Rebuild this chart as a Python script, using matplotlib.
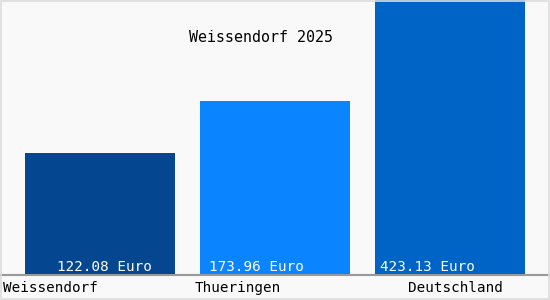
import matplotlib.pyplot as plt
from matplotlib.patches import Rectangle

# bar chart: average value per region, Weissendorf 2025
title = 'Weissendorf 2025'
regions = ['Weissendorf', 'Thueringen', 'Deutschland']
values = [122.08, 173.96, 423.13]
value_labels = ['122.08 Euro', '173.96 Euro', '423.13 Euro']

bar_colors = ['#04468f', '#0a84ff', '#0063c6']
mono = 'DejaVu Sans Mono'

fig = plt.figure(figsize=(5.5, 3), dpi=100, facecolor='#f9f9f9')
ax = fig.add_axes([0, 25 / 300, 1, 275 / 300])
ax.set_facecolor('#f9f9f9')

x = range(len(regions))
ax.bar(x, values, width=150 / 175, color=bar_colors, zorder=2)

ax.set_xlim(-100 / 175, 450 / 175)
ax.set_ylim(0, 275)
for s in ['top', 'left', 'right']:
    ax.spines[s].set_visible(False)
ax.spines['bottom'].set_color('#999999')
ax.spines['bottom'].set_linewidth(1.5)
ax.set_xticks([])
ax.set_yticks([])

# thin light frame round the whole picture
fig.patches.append(Rectangle((0.001, 0.002), 0.997, 0.995, transform=fig.transFigure,
                             fill=False, edgecolor='#dddddd', linewidth=1.2, zorder=10))

# value text sits at the bottom of each bar (pixel offsets like the original)
val_x = [57, 209, 380]
for px, lab in zip(val_x, value_labels):
    fig.text(px / 550, 1 - 267 / 300, lab, color='white', family=mono,
             fontsize=10.3, ha='left', va='center')

# region names under the axis line
name_x = [3, 195, 408]
for px, lab in zip(name_x, regions):
    fig.text(px / 550, 1 - 288 / 300, lab, color='black', family=mono,
             fontsize=10.3, ha='left', va='center')

fig.text(261 / 550, 1 - 38 / 300, title, color='black', family=mono,
         fontsize=10.8, ha='center', va='center')

fig.savefig('out.png', dpi=100, facecolor=fig.get_facecolor())
